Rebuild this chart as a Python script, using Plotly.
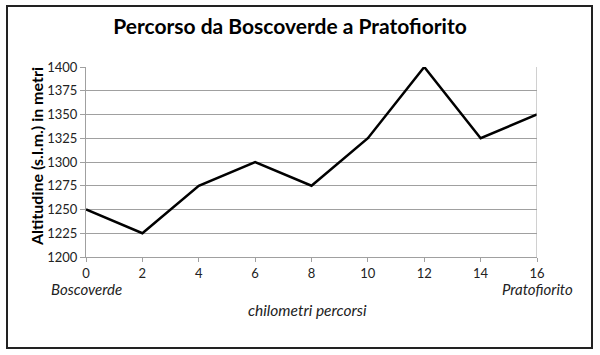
import plotly.graph_objects as go

km = [0, 2, 4, 6, 8, 10, 12, 14, 16]
altitudine = [1250, 1225, 1275, 1300, 1275, 1325, 1400, 1325, 1350]
y_ticks = [1200, 1225, 1250, 1275, 1300, 1325, 1350, 1375, 1400]

FONT = "Lato"
OFF = 0  # body margin removed via post_script
W, H = 600, 355
# plot area in page pixels
PX0, PX1, PY0, PY1 = 86, 537, 67, 257
L, T = PX0 - OFF, PY0 - OFF
R = W - (PX1 - OFF)
B = H - (PY1 - OFF)
pw, ph = PX1 - PX0, PY1 - PY0

def px(x):
    return (x - PX0) / pw

def py(y):
    return (PY1 - y) / ph

fig = go.Figure()
fig.add_trace(go.Scatter(x=km, y=altitudine, mode="lines",
                         line=dict(color="black", width=2.5), showlegend=False,
                         hoverinfo="skip"))

fig.update_layout(
    width=W, height=H,
    margin=dict(l=L, r=R, t=T, b=B),
    paper_bgcolor="white", plot_bgcolor="white",
    font=dict(family=FONT, color="#222", size=12),
    title=dict(text="Percorso da Boscoverde a Pratofiorito",
               x=(290 - OFF) / W, xanchor="center", y=1 - (27 - OFF) / H, yanchor="middle",
               font=dict(family=FONT, size=21, color="black", weight="bold")),
    xaxis=dict(range=[0, 16], tickvals=km, ticktext=[str(k) for k in km],
               showgrid=False, zeroline=False, showline=True, linecolor="#a0a0a0",
               ticks="outside", ticklen=4, tickcolor="#a0a0a0", mirror=False,
               tickfont=dict(size=13, color="#222")),
    yaxis=dict(range=[1200, 1400], tickvals=y_ticks,
               showgrid=True, gridcolor="#a0a0a0", gridwidth=1, zeroline=False,
               showline=True, linecolor="#a0a0a0", ticks="outside", ticklen=5,
               tickcolor="#a0a0a0", tickfont=dict(size=13, color="#222")),
    shapes=[
        dict(type="line", xref="x", yref="y", x0=16, x1=16, y0=1200, y1=1400,
             line=dict(color="#a0a0a0", width=1)),
        dict(type="rect", xref="paper", yref="paper",
             x0=px(7), x1=px(592), y0=py(348), y1=py(6),
             line=dict(color="#222", width=2)),
    ],
    annotations=[
        dict(text="Boscoverde", x=0, xref="x", y=py(289), yref="paper",
             showarrow=False, xanchor="center", yanchor="middle",
             font=dict(family=FONT, size=15, color="#222", style="italic")),
        dict(text="Pratofiorito", x=16, xref="x", y=py(289), yref="paper",
             showarrow=False, xanchor="center", yanchor="middle",
             font=dict(family=FONT, size=15, color="#222", style="italic")),
        dict(text="chilometri percorsi", x=px(307), xref="paper", y=py(310), yref="paper",
             showarrow=False, xanchor="center", yanchor="middle",
             font=dict(family=FONT, size=15.5, color="#222", style="italic")),
        dict(text="Altitudine (s.l.m.) in metri", x=px(36), xref="paper", y=py(157), yref="paper",
             showarrow=False, xanchor="center", yanchor="middle", textangle=-90,
             font=dict(family=FONT, size=16, color="black", weight="bold")),
    ],
)

fig.write_html("out.html", config={"displayModeBar": False},
               post_script="document.body.style.margin='0';")
